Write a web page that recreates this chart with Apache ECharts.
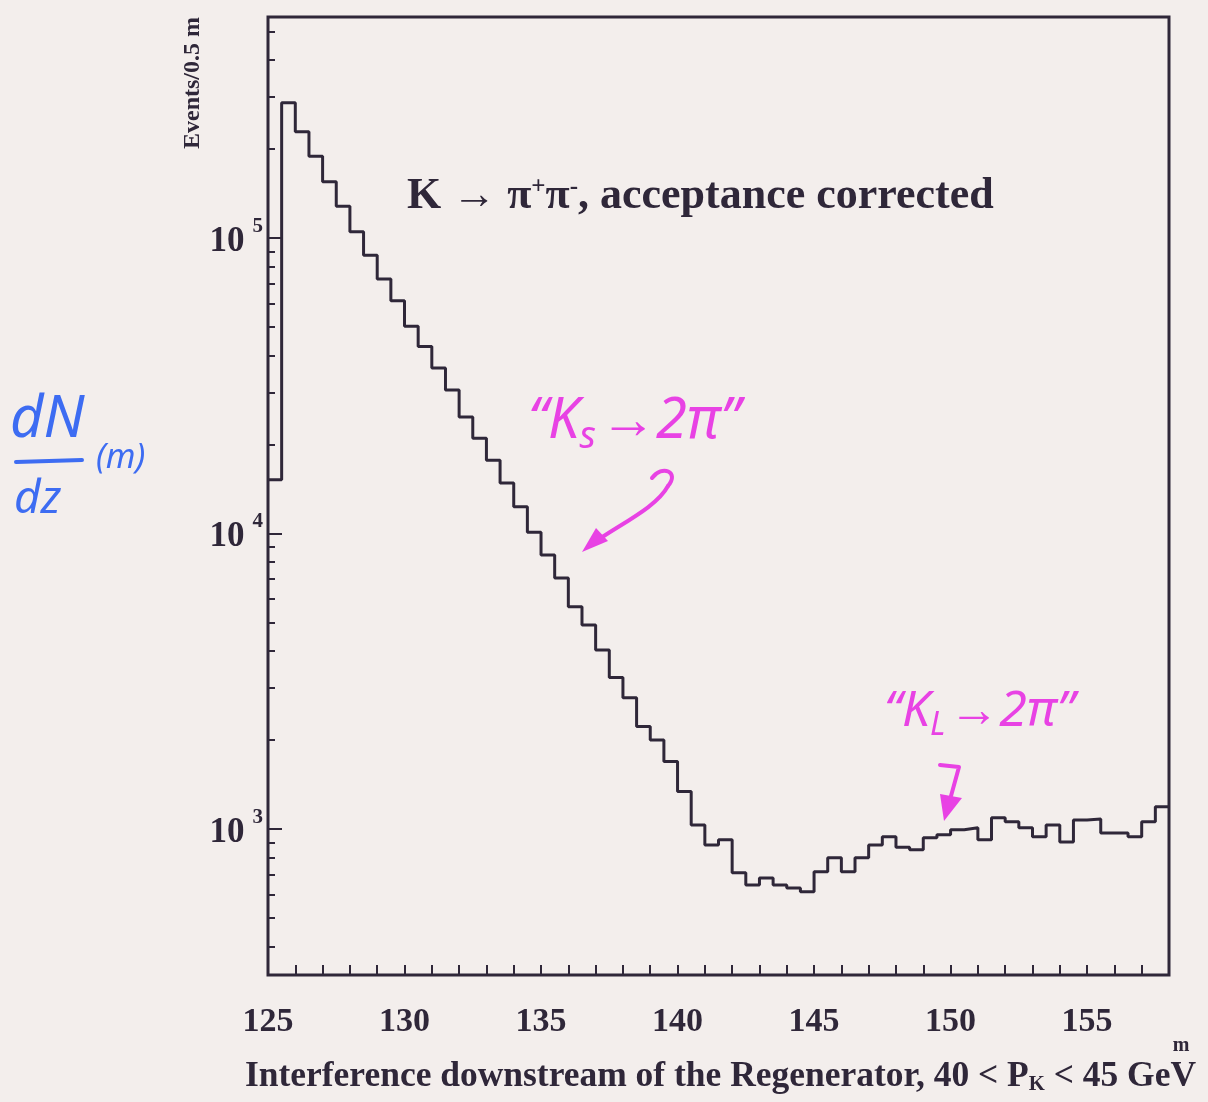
<!DOCTYPE html>
<html>
<head>
<meta charset="utf-8">
<script src="https://cdn.jsdelivr.net/npm/echarts@6/dist/echarts.min.js"></script>
<style>
  html, body { margin: 0; padding: 0; background: #f3eeec; }
  #chart { width: 1208px; height: 1102px; }
</style>
</head>
<body>
<div id="chart"></div>
<script>
// histogram: 0.5 m bins starting at z = 125 m
const binStart = 125;
const binWidth = 0.5;
const counts = [
  15200, 287000, 229000, 189000, 155000, 128000, 105000, 87500, 72600, 61300,
  50300, 42900, 36300, 30600, 24800, 21000, 17700, 14800, 12300, 10100,
  8450, 7070, 5650, 4900, 4030, 3250, 2780, 2220, 2000, 1690,
  1337, 1031, 882, 918, 710, 646, 682, 646, 631, 612,
  716, 798, 716, 798, 882, 940, 866, 849, 933, 955,
  993, 1008, 918, 1090, 1056, 1008, 940, 1031, 903, 1072,
  1080, 968, 968, 940, 1056, 1187
];
const yMajorTicks = [1e3, 1e4, 1e5];
const yMinorTicks = [];
[100, 1000, 10000, 100000].forEach((d) => {
  for (let k = 2; k <= 9; k++) yMinorTicks.push(k * d);
});

const ink = "#2f2739";
const serif = '"Liberation Serif", "DejaVu Serif", serif';
const magenta = "#e842e4";
const blue = "#3d6cf2";

const histData = counts.map((c, i) => [binStart + i * binWidth, c]);
histData.push([binStart + counts.length * binWidth, counts[counts.length - 1]]);

const myChart = echarts.init(document.getElementById("chart"));

const option = {
  backgroundColor: "#f3eeec",
  animation: false,
  grid: {
    left: 268,
    right: 39,
    top: 17,
    bottom: 127,
    show: true,
    borderColor: ink,
    borderWidth: 3,
    backgroundColor: "transparent",
  },
  xAxis: {
    type: "value",
    min: 125,
    max: 158,
    interval: 1,
    axisLine: { show: false },
    axisTick: { inside: true, length: 10, lineStyle: { color: ink, width: 2 } },
    axisLabel: {
      margin: 30,
      color: ink,
      fontFamily: serif,
      fontWeight: "bold",
      fontSize: 34,
      formatter: (v) => (v % 5 === 0 ? String(v) : ""),
    },
    splitLine: { show: false },
  },
  yAxis: [
    {
      type: "log",
      logBase: 10,
      min: 320,
      max: 560000,
      axisLine: { show: false },
      axisTick: { inside: true, length: 14, customValues: yMajorTicks, lineStyle: { color: ink, width: 2 } },
      axisLabel: {
        customValues: yMajorTicks,
        margin: 5,
        color: ink,
        formatter: (v) => "{b|10}{e|" + Math.round(Math.log10(v)) + "}",
        rich: {
          b: { fontFamily: serif, fontWeight: "bold", fontSize: 35, color: ink, lineHeight: 44, padding: [8, 0, 0, 0] },
          e: { fontFamily: serif, fontWeight: "bold", fontSize: 21, color: ink, lineHeight: 44, verticalAlign: "top", padding: [0, 0, 0, 8] },
        },
      },
      splitLine: { show: false },
    },
    {
      type: "log",
      logBase: 10,
      min: 320,
      max: 560000,
      position: "left",
      axisLine: { show: false },
      axisTick: { inside: true, length: 7, customValues: yMinorTicks, lineStyle: { color: ink, width: 2 } },
      axisLabel: { show: false },
      splitLine: { show: false },
    },
  ],
  series: [
    {
      type: "line",
      step: "end",
      data: histData,
      symbol: "none",
      clip: true,
      lineStyle: { color: ink, width: 3 },
    },
  ],
  graphic: [
    {
      type: "text",
      x: 193,
      y: 83,
      rotation: Math.PI / 2,
      style: {
        text: "Events/0.5 m",
        font: "bold 24px " + serif,
        fill: ink,
        textAlign: "center",
        textVerticalAlign: "middle",
      },
    },
    {
      type: "text",
      x: 407,
      y: 197,
      style: {
        text: "K \u2192 \u03c0{sup|+}\u03c0{sup|-}, acceptance corrected",
        font: "bold 44px " + serif,
        fill: ink,
        textAlign: "left",
        textVerticalAlign: "middle",
        rich: {
          sup: { font: "bold 25px " + serif, fill: ink, verticalAlign: "top", lineHeight: 44 },
        },
      },
    },
    {
      type: "text",
      x: 245,
      y: 1077,
      scaleX: 0.985,
      style: {
        text: "Interference downstream of the Regenerator, 40 < P{sub|K} < 45 GeV",
        font: "bold 36px " + serif,
        fill: ink,
        textAlign: "left",
        textVerticalAlign: "middle",
        rich: {
          sub: { font: "bold 21px " + serif, fill: ink, verticalAlign: "bottom", lineHeight: 30, padding: [18, 0, 0, 0] },
        },
      },
    },
    {
      type: "text",
      x: 1181,
      y: 1046,
      style: { text: "m", font: "bold 20px " + serif, fill: ink, textAlign: "center", textVerticalAlign: "middle" },
    },
    // handwritten notes
    {
      type: "text",
      x: 528,
      y: 422,
      style: {
        text: "\u201cK{s|s}\u21922\u03c0\u201d",
        font: "italic 56px 'Noto Sans'",
        fill: magenta,
        textAlign: "left",
        textVerticalAlign: "middle",
        rich: { s: { font: "italic 38px 'Noto Sans'", fill: magenta, padding: [30, 4, 0, 0] } },
      },
    },
    {
      type: "bezierCurve",
      shape: { x1: 652, y1: 478, cpx1: 662, cpy1: 464, x2: 668, y2: 486, cpx2: 680, cpy2: 472 },
      style: { stroke: magenta, lineWidth: 4, fill: null, lineCap: "round" },
    },
    {
      type: "bezierCurve",
      shape: { x1: 668, y1: 486, cpx1: 656, cpy1: 508, x2: 592, y2: 544, cpx2: 620, cpy2: 524 },
      style: { stroke: magenta, lineWidth: 4, fill: null, lineCap: "round" },
    },
    {
      type: "polygon",
      shape: { points: [[582, 552], [596, 528], [608, 541]] },
      style: { fill: magenta },
    },
    {
      type: "text",
      x: 884,
      y: 712,
      style: {
        text: "\u201cK{s|L}\u21922\u03c0\u201d",
        font: "italic 50px 'Noto Sans'",
        fill: magenta,
        textAlign: "left",
        textVerticalAlign: "middle",
        rich: { s: { font: "italic 32px 'Noto Sans'", fill: magenta, padding: [28, 4, 0, 0] } },
      },
    },
    {
      type: "polyline",
      shape: { points: [[940, 765], [959, 767], [951, 796]] },
      style: { stroke: magenta, lineWidth: 4, fill: null, lineCap: "round", lineJoin: "round" },
    },
    {
      type: "polygon",
      shape: { points: [[944, 821], [940, 794], [962, 798]] },
      style: { fill: magenta },
    },
    {
      type: "text",
      x: 10,
      y: 420,
      style: { text: "dN", font: "italic 58px 'Noto Sans'", fill: blue, textAlign: "left", textVerticalAlign: "middle" },
    },
    {
      type: "line",
      shape: { x1: 16, y1: 462, x2: 82, y2: 460 },
      style: { stroke: blue, lineWidth: 4, lineCap: "round" },
    },
    {
      type: "text",
      x: 14,
      y: 500,
      style: { text: "dz", font: "italic 46px 'Noto Sans'", fill: blue, textAlign: "left", textVerticalAlign: "middle" },
    },
    {
      type: "text",
      x: 96,
      y: 458,
      style: { text: "(m)", font: "italic 34px 'Noto Sans'", fill: blue, textAlign: "left", textVerticalAlign: "middle" },
    },
  ],
};

myChart.setOption(option);
</script>
</body>
</html>
